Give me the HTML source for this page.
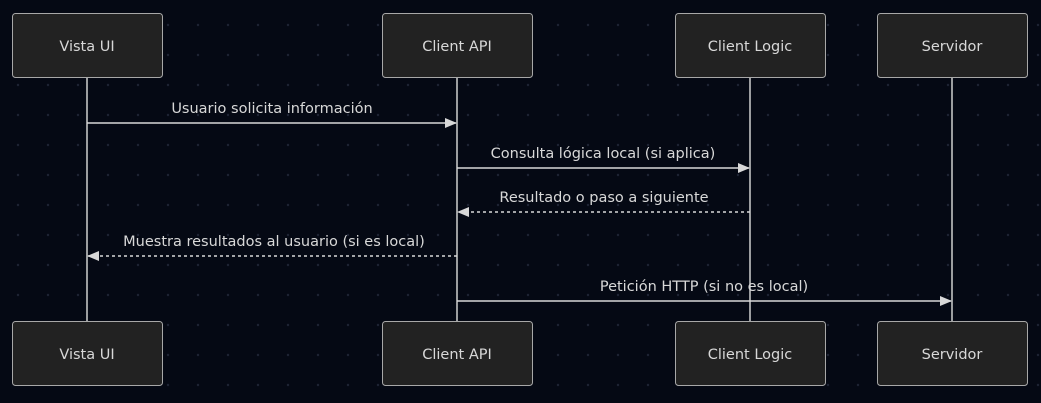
<!DOCTYPE html>
<html><head><meta charset="utf-8"><style>
html,body{margin:0;padding:0;background:#050914;}
svg{display:block;}
text{font-family:"DejaVu Sans","Liberation Sans",sans-serif;font-size:14.5px;fill:#d8d8d8;}
</style></head><body>
<svg width="1041" height="403" viewBox="0 0 1041 403" xmlns="http://www.w3.org/2000/svg">
<defs>
<pattern id="dots" x="0" y="0" width="30" height="30" patternUnits="userSpaceOnUse">
<circle cx="18" cy="25" r="1.2" fill="#1d2333"/>
</pattern>
<marker id="ah" markerWidth="12" markerHeight="10" refX="11" refY="5" orient="auto" markerUnits="userSpaceOnUse">
<path d="M0,0 L12,5 L0,10 z" fill="#d8d8d8"/>
</marker>
</defs>
<rect width="1041" height="403" fill="url(#dots)"/>
<g stroke="#cfcfcf" stroke-width="1.5">
<line x1="87" y1="78" x2="87" y2="321"/>
<line x1="457" y1="78" x2="457" y2="321"/>
<line x1="750" y1="78" x2="750" y2="321"/>
<line x1="952" y1="78" x2="952" y2="321"/>
</g>
<g fill="#222222" stroke="#a8a8a8" stroke-width="1">
<rect x="12.5" y="13.5" width="150" height="64" rx="3"/>
<rect x="382.5" y="13.5" width="150" height="64" rx="3"/>
<rect x="675.5" y="13.5" width="150" height="64" rx="3"/>
<rect x="877.5" y="13.5" width="150" height="64" rx="3"/>
<rect x="12.5" y="321.5" width="150" height="64" rx="3"/>
<rect x="382.5" y="321.5" width="150" height="64" rx="3"/>
<rect x="675.5" y="321.5" width="150" height="64" rx="3"/>
<rect x="877.5" y="321.5" width="150" height="64" rx="3"/>
</g>
<g text-anchor="middle">
<text x="87" y="51">Vista UI</text>
<text x="457" y="51">Client API</text>
<text x="750" y="51">Client Logic</text>
<text x="952" y="51">Servidor</text>
<text x="87" y="359">Vista UI</text>
<text x="457" y="359">Client API</text>
<text x="750" y="359">Client Logic</text>
<text x="952" y="359">Servidor</text>
<text x="272" y="113">Usuario solicita información</text>
<text x="603" y="158">Consulta lógica local (si aplica)</text>
<text x="604" y="202">Resultado o paso a siguiente</text>
<text x="274" y="246">Muestra resultados al usuario (si es local)</text>
<text x="704" y="291">Petición HTTP (si no es local)</text>
</g>
<g stroke="#d8d8d8" stroke-width="1.5" fill="none">
<line x1="87" y1="123" x2="456" y2="123" marker-end="url(#ah)"/>
<line x1="457" y1="168" x2="749" y2="168" marker-end="url(#ah)"/>
<line x1="750" y1="212" x2="458" y2="212" stroke-dasharray="3,3" marker-end="url(#ah)"/>
<line x1="457" y1="256" x2="88" y2="256" stroke-dasharray="3,3" marker-end="url(#ah)"/>
<line x1="457" y1="301" x2="951" y2="301" marker-end="url(#ah)"/>
</g>
</svg>
</body></html>
